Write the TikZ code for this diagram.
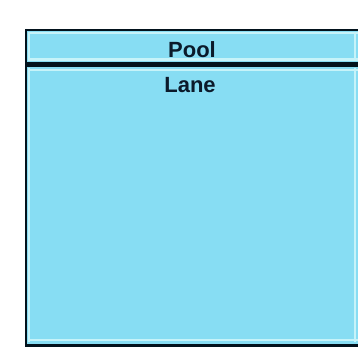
\documentclass[tikz,border=0pt]{standalone}
\usepackage{fontspec}
\setmainfont{Liberation Sans}
\definecolor{poolfill}{HTML}{87DDF3}
\definecolor{paleline}{HTML}{C6F3F9}
\definecolor{darkline}{HTML}{02121C}
\definecolor{txt}{HTML}{0B1A2A}
\begin{document}
\begin{tikzpicture}[x=1pt,y=-1pt,
  frame/.style={draw=darkline},
  pale/.style={draw=paleline,line width=2.5pt},
  lbl/.style={font=\fontsize{22}{24}\selectfont\bfseries,text=txt,inner sep=0pt,anchor=base}]
\useasboundingbox (0,0) rectangle (358,347);
\clip (0,0) rectangle (358,347);
\fill[white] (0,0) rectangle (358,347);
% pool header
\fill[poolfill] (27,31) rectangle (370,62);
\draw[pale] (28.5,32.8) -- (370,32.8);
\draw[pale] (28.5,59.5) -- (370,59.5);
\draw[pale] (29.2,32) -- (29.2,61);
\draw[pale] (354.8,32) -- (354.8,61);
% lane
\fill[poolfill] (27,67) rectangle (370,344);
\draw[pale] (28.5,69.8) -- (370,69.8);
\draw[pale] (28.5,340) -- (370,340);
\draw[pale] (29.2,68) -- (29.2,342);
\draw[pale] (354.8,68) -- (354.8,342);
% frame
\draw[frame,line width=2.2pt] (26.3,30) -- (370,30);
\draw[frame,line width=2.2pt] (26.3,29) -- (26.3,347);
\draw[frame,line width=5pt] (25.5,64.5) -- (370,64.5);
\draw[frame,line width=3.5pt] (25.5,345.5) -- (370,345.5);
% labels
\node[lbl] (pool) at (192,57.5) {Pool};
\node[lbl] (lane) at (190,93) {Lane};
\end{tikzpicture}
\end{document}
